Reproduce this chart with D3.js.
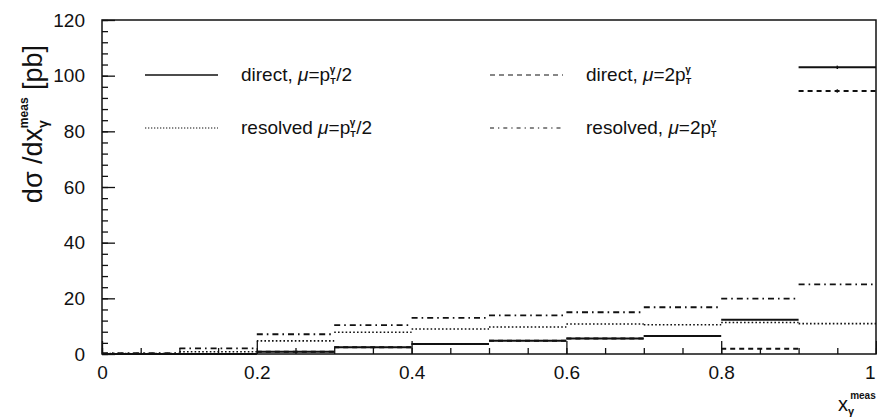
<!DOCTYPE html>
<html>
<head>
<meta charset="utf-8">
<script src="https://cdn.jsdelivr.net/npm/d3@7"></script>
<style>
  html, body { margin: 0; padding: 0; background: #fff; }
  svg text { font-family: "Liberation Sans", Arial, sans-serif; fill: #111; }
</style>
</head>
<body>
<svg id="chart" width="877" height="420"></svg>
<script>
// Bin edges in x_gamma^meas and cross sections per bin [pb]
const binEdges = [0, 0.1, 0.2, 0.3, 0.4, 0.5, 0.6, 0.7, 0.8, 0.9, 1.0];
const directHalf   = [0, 0, 0.8, 2.4, 3.6, 4.8, 5.6, 6.5, 12.3, 103.0];
const directTwo    = [0, 0, 0.8, 2.4, 3.6, 4.8, 5.6, 6.5, 1.9, 94.5];
const resolvedHalf = [0.2, 0.8, 4.7, 7.8, 9.0, 9.7, 10.8, 10.5, 11.3, 10.9];
const resolvedTwo  = [0.3, 2.0, 7.1, 10.4, 13.0, 13.9, 15.0, 16.8, 19.9, 25.0];
// statistical errors shown on the highest bin
const directHalfErr = [0, 0, 0, 0, 0, 0, 0, 0, 0, 0.6];
const directTwoErr  = [0, 0, 0, 0, 0, 0, 0, 0, 0, 0.6];

const xTickLabels = [0, 0.2, 0.4, 0.6, 0.8, 1];
const yTickLabels = [0, 20, 40, 60, 80, 100, 120];

const svg = d3.select("#chart");
const x = d3.scaleLinear().domain([0, 1]).range([102, 876]);
const y = d3.scaleLinear().domain([0, 120]).range([354, 20]);
const ink = "#111";

// frame
svg.append("rect")
  .attr("x", x(0)).attr("y", y(120))
  .attr("width", x(1) - x(0)).attr("height", y(0) - y(120))
  .attr("fill", "none").attr("stroke", ink).attr("stroke-width", 1.5);

// y axis: major ticks with labels, minor ticks every 4 pb, pointing inward
const yMajor = d3.axisLeft(y).tickValues(yTickLabels).tickSizeInner(-13).tickSizeOuter(0).tickPadding(17).tickFormat(d3.format("d"));
const yMinor = d3.axisLeft(y).tickValues(d3.range(0, 121, 4)).tickSizeInner(-6).tickSizeOuter(0).tickFormat("");
const gyMinor = svg.append("g").attr("transform", `translate(${x(0)},0)`).call(yMinor);
const gy = svg.append("g").attr("transform", `translate(${x(0)},0)`).call(yMajor);

// x axis: labels every 0.2, minor ticks every 0.05, pointing inward
const xMajor = d3.axisBottom(x).tickValues(xTickLabels).tickSizeInner(-13).tickSizeOuter(0).tickPadding(12).tickFormat(d => d === 0 || d === 1 ? d3.format("d")(d) : d3.format(".1f")(d));
const xMinor = d3.axisBottom(x).tickValues(d3.range(0, 1.0001, 0.05)).tickSizeInner(-6).tickSizeOuter(0).tickFormat("");
const gxMinor = svg.append("g").attr("transform", `translate(0,${y(0)})`).call(xMinor);
const gx = svg.append("g").attr("transform", `translate(0,${y(0)})`).call(xMajor);

[gy, gyMinor, gx, gxMinor].forEach(g => {
  g.select(".domain").remove();
  g.selectAll("line").attr("stroke", ink).attr("stroke-width", 1.3);
  g.selectAll("text").attr("font-size", 19).attr("fill", ink)
    .style("font-family", "'Liberation Sans', Arial, sans-serif");
});
// keep the last label inside the page edge
gx.selectAll(".tick text").filter(d => d === 1).attr("text-anchor", "end").attr("dx", -1);

// histogram series drawn as flat bin tops
const series = [
  { name: "directHalf",   values: directHalf,   errs: directHalfErr, dash: null,          width: 2 },
  { name: "directTwo",    values: directTwo,    errs: directTwoErr,  dash: "5,4",       width: 2 },
  { name: "resolvedHalf", values: resolvedHalf, errs: null,          dash: "1.6,2.2",   width: 1.6 },
  { name: "resolvedTwo",  values: resolvedTwo,  errs: null,          dash: "6,4,1.6,4", width: 1.8 }
];

series.forEach(s => {
  const g = svg.append("g").attr("class", s.name);
  g.selectAll("line.bin")
    .data(s.values)
    .join("line")
    .attr("class", "bin")
    .attr("x1", (d, i) => x(binEdges[i]))
    .attr("x2", (d, i) => x(binEdges[i + 1]))
    .attr("y1", d => y(d))
    .attr("y2", d => y(d))
    .attr("stroke", ink)
    .attr("stroke-width", s.width)
    .attr("stroke-dasharray", s.dash);
  if (s.errs) {
    g.selectAll("line.err")
      .data(s.values.map((v, i) => ({ v, e: s.errs[i], i })).filter(d => d.e > 0))
      .join("line")
      .attr("class", "err")
      .attr("x1", d => x((binEdges[d.i] + binEdges[d.i + 1]) / 2))
      .attr("x2", d => x((binEdges[d.i] + binEdges[d.i + 1]) / 2))
      .attr("y1", d => y(d.v - d.e))
      .attr("y2", d => y(d.v + d.e))
      .attr("stroke", ink).attr("stroke-width", 1.5);
  }
});

// legend
const legend = [
  { lx: 145, ly: 75,  dash: null,        width: 1.5, label: ["direct, ", "μ", "=p", "T", "γ", "/2"] },
  { lx: 490, ly: 75,  dash: "5,4",       width: 1.2, label: ["direct, ", "μ", "=2p", "T", "γ", ""] },
  { lx: 145, ly: 128, dash: "1.3,1.7",   width: 1.2, label: ["resolved ", "μ", "=p", "T", "γ", "/2"] },
  { lx: 490, ly: 128, dash: "4,4,1.3,4", width: 1.2, label: ["resolved, ", "μ", "=2p", "T", "γ", ""] }
];

legend.forEach(l => {
  svg.append("line")
    .attr("x1", l.lx).attr("x2", l.lx + 73)
    .attr("y1", l.ly).attr("y2", l.ly)
    .attr("stroke", ink).attr("stroke-width", l.width)
    .attr("stroke-dasharray", l.dash);
  const t = svg.append("text")
    .attr("x", l.lx + 96).attr("y", l.ly + 6)
    .attr("font-size", 19);
  t.append("tspan").text(l.label[0]);
  t.append("tspan").text(l.label[1]).attr("font-style", "italic");
  t.append("tspan").text(l.label[2]);
  t.append("tspan").text(l.label[3]).attr("font-size", 9).attr("dy", 3).attr("font-weight", "bold");
  t.append("tspan").text(l.label[4]).attr("font-size", 10).attr("dy", -11).attr("dx", -6).attr("font-weight", "bold");
  if (l.label[5]) t.append("tspan").text(l.label[5]).attr("dy", 8).attr("dx", 1);
});

// y axis title
const yt = svg.append("text")
  .attr("transform", "translate(42,124) rotate(-90)")
  .attr("text-anchor", "middle")
  .attr("font-size", 27);
yt.append("tspan").text("dσ /dx");
yt.append("tspan").text("γ").attr("font-size", 14).attr("dy", 6).attr("font-weight", "bold");
yt.append("tspan").text("meas").attr("font-size", 12).attr("dy", -20).attr("dx", -8).attr("font-weight", "bold");
yt.append("tspan").text(" [pb]").attr("dy", 14);

// x axis title
const xt = svg.append("text")
  .attr("x", 838).attr("y", 411)
  .attr("font-size", 20);
xt.append("tspan").text("x");
xt.append("tspan").text("γ").attr("font-size", 11).attr("dy", 4).attr("font-weight", "bold");
xt.append("tspan").text("meas").attr("font-size", 10).attr("dy", -16).attr("dx", -4).attr("font-weight", "bold");
</script>
</body>
</html>
